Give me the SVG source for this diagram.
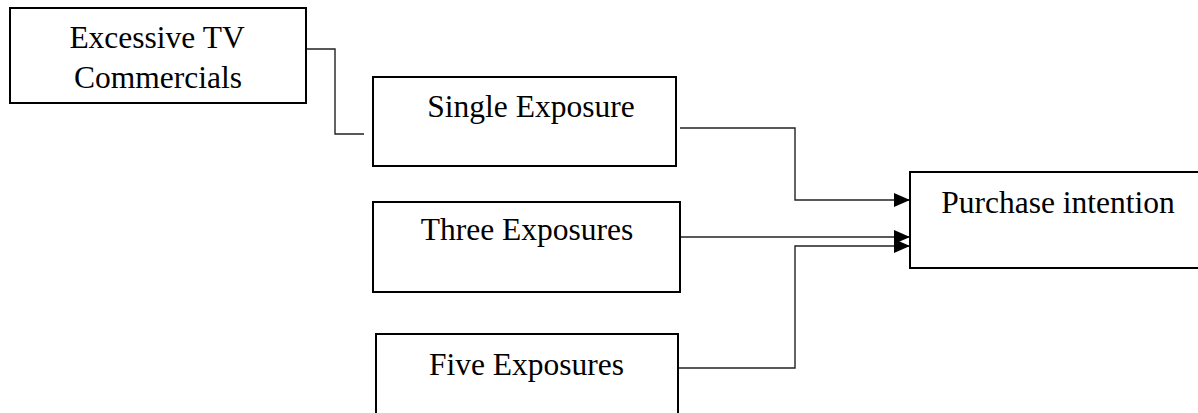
<svg xmlns="http://www.w3.org/2000/svg" width="1198" height="413" viewBox="0 0 1198 413">
<style>
.box{fill:#fff;stroke:#000;stroke-width:2}
.lbl{font-family:"Liberation Serif","Times New Roman",serif;font-size:31.5px;fill:#000;text-anchor:middle}
.conn{fill:none;stroke:#222;stroke-width:1.4}
</style>
<defs>
<marker id="arr" markerUnits="userSpaceOnUse" markerWidth="16" markerHeight="14" refX="16" refY="7" orient="auto">
<path d="M0,0 L16,7 L0,14 z" fill="#000"/>
</marker>
</defs>
<rect width="1198" height="413" fill="#fff"/>
<g id="connectors">
<polyline class="conn" points="306,49 335,49 335,134 364,134"/>
<polyline class="conn" points="680,128 795,128 795,200 910,200" marker-end="url(#arr)"/>
<polyline class="conn" points="680,237 910,237" marker-end="url(#arr)"/>
<polyline class="conn" points="679,368 795,368 795,246 910,246" marker-end="url(#arr)"/>
</g>
<g id="excessive">
<rect class="box" x="10" y="8" width="296" height="95"/>
<text class="lbl" x="157" y="48">Excessive TV</text>
<text class="lbl" x="158" y="88">Commercials</text>
</g>
<g id="single">
<rect class="box" x="373" y="77" width="303" height="89"/>
<text class="lbl" x="531" y="117">Single Exposure</text>
</g>
<g id="three">
<rect class="box" x="373" y="202" width="307" height="90"/>
<text class="lbl" x="527" y="240">Three Exposures</text>
</g>
<g id="five">
<rect class="box" x="376" y="334" width="302" height="90"/>
<text class="lbl" x="526.5" y="375">Five Exposures</text>
</g>
<g id="purchase">
<rect class="box" x="910" y="172" width="300" height="96"/>
<text class="lbl" x="1058" y="213">Purchase intention</text>
</g>
</svg>
